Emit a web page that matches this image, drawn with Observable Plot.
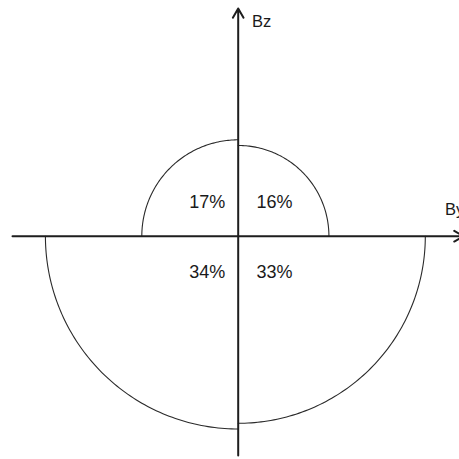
<!DOCTYPE html>
<html>
<head>
<meta charset="utf-8">
<script src="https://cdn.jsdelivr.net/npm/d3@7"></script>
<script src="https://cdn.jsdelivr.net/npm/@observablehq/plot@0.6"></script>
<style>
  html, body { margin: 0; padding: 0; background: #fff; }
  svg { display: block; }
</style>
</head>
<body>
<div id="chart"></div>
<script>
// Quadrant shares (%), radius of each quarter circle proportional to share
const quadrants = ["upper-left", "upper-right", "lower-left", "lower-right"];
const shares = [17, 16, 34, 33];
const labels = ["17%", "16%", "34%", "33%"];
const axisLabels = ["By", "Bz"];

// quadrant geometry: start angle (radians, from +x counter-clockwise)
const quadStart = {"upper-left": Math.PI / 2, "upper-right": 0, "lower-left": Math.PI, "lower-right": 1.5 * Math.PI};
const quadSign = {"upper-left": [-1, 1], "upper-right": [1, 1], "lower-left": [-1, -1], "lower-right": [1, -1]};

// arc points (geometry only)
const arcPts = [];
quadrants.forEach((q, i) => {
  const r = shares[i];
  for (let k = 0; k <= 90; k++) {
    const a = quadStart[q] + (k / 90) * (Math.PI / 2);
    arcPts.push({q, x: r * Math.cos(a), y: r * Math.sin(a)});
  }
});

const labelData = quadrants.map((q, i) => ({
  q, label: labels[i],
  x: quadSign[q][0] * (quadSign[q][0] < 0 ? 5.47 : 6.4),
  y: quadSign[q][1] > 0 ? 6.0 : -6.35
}));

const S = 5.67; // px per unit
const ox = 237.7, oy = 235.7;
const W = 459, H = 459;

const chart = Plot.plot({
  width: W, height: H,
  margin: 0,
  x: {domain: [-ox / S, (W - ox) / S], axis: null},
  y: {domain: [-(H - oy) / S, oy / S], axis: null},
  style: {background: "#fff", fontFamily: "'Liberation Sans', Arial, Helvetica, sans-serif"},
  marks: [
    Plot.line(arcPts, {x: "x", y: "y", z: "q", stroke: "#2a2a2a", strokeWidth: 1.1}),
    Plot.arrow([{x1: (12 - ox) / S, y1: 0, x2: (463 - ox) / S, y2: 0}],
      {x1: "x1", y1: "y1", x2: "x2", y2: "y2", stroke: "#1e1e1e", strokeWidth: 2, headLength: 8, headAngle: 60}),
    Plot.arrow([{x1: 0, y1: (oy - 455) / S, x2: 0, y2: (oy - 8) / S}],
      {x1: "x1", y1: "y1", x2: "x2", y2: "y2", stroke: "#1e1e1e", strokeWidth: 2, headLength: 8, headAngle: 60}),
    Plot.text(labelData, {x: "x", y: "y", text: "label", fontSize: 18, fill: "#1a1a1a", textAnchor: "middle", lineAnchor: "middle"}),
    Plot.text([axisLabels[1]], {x: (251.5 - ox) / S, y: (oy - 21.5) / S, text: d => d, fontSize: 16.5, fill: "#1a1a1a", textAnchor: "start", lineAnchor: "middle"}),
    Plot.text([axisLabels[0]], {x: (444.5 - ox) / S, y: (oy - 209.5) / S, text: d => d, fontSize: 16.5, fill: "#1a1a1a", textAnchor: "start", lineAnchor: "middle"})
  ]
});
document.getElementById("chart").appendChild(chart);
</script>
</body>
</html>
